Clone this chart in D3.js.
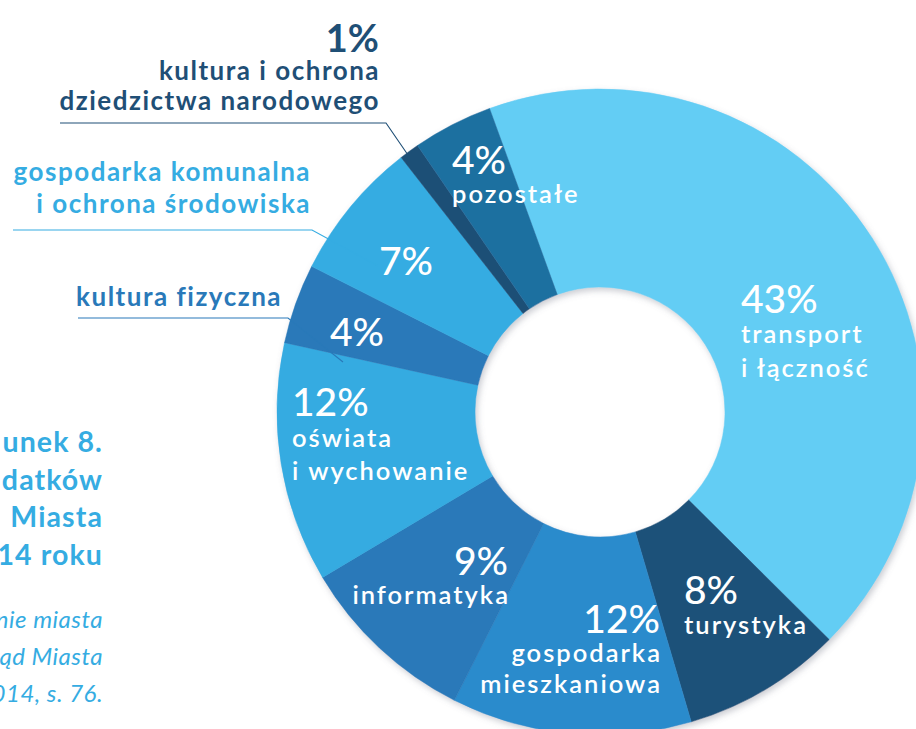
<!DOCTYPE html>
<html><head><meta charset="utf-8">
<script src="https://cdn.jsdelivr.net/npm/d3@7/dist/d3.min.js"></script>
<style>
html,body{margin:0;padding:0;background:#fff;overflow:hidden;}
svg{display:block;font-family:Lato,"Noto Sans",sans-serif;}
</style></head>
<body>
<svg id="chart" width="916" height="729"></svg>
<script>
// ---- data ----
const categories = ["transport i łączność","turystyka","gospodarka mieszkaniowa","informatyka","oświata i wychowanie","kultura fizyczna","gospodarka komunalna i ochrona środowiska","kultura i ochrona dziedzictwa narodowego","pozostałe"];
const values = [43, 8, 12, 9, 12, 4, 7, 1, 4];
const percentLabels = ["43%","8%","12%","9%","12%","4%","7%","1%","4%"];
const innerLines = [["transport","i łączność"],["turystyka"],["gospodarka","mieszkaniowa"],["informatyka"],["oświata","i wychowanie"],[],[],[],["pozostałe"]];
const outerLines = [[],[],[],[],[],["kultura fizyczna"],["gospodarka komunalna","i ochrona środowiska"],["kultura i ochrona","dziedzictwa narodowego"],[]];
// visible (cropped) parts of the figure caption at the left edge
const titleLines = ["unek 8.","datków","Miasta","14 roku"];
const sourceLines = ["nie miasta","ąd Miasta","014, s. 76."];
const palette = ["#64cdf4","#1f5179","#2b8bcc","#2979b9","#34abe1","#2979b9","#35ace2","#1f4f76","#1f6fa0"];

// ---- layout ----
const W = 916, H = 729;
const cx = 600, cy = 412, rIn = 125, rOut = 323;
const startDeg = -20;

const svg = d3.select("#chart");
const defs = svg.append("defs");
const f = defs.append("filter").attr("id","sh").attr("x","-20%").attr("y","-20%").attr("width","140%").attr("height","140%");
f.append("feDropShadow").attr("dx",2).attr("dy",3).attr("stdDeviation",3).attr("flood-color","#6a7080").attr("flood-opacity",0.35);

const pie = d3.pie().sort(null).value(d => d)
  .startAngle(startDeg*Math.PI/180).endAngle((startDeg+360)*Math.PI/180);
const arcs = pie(values);
const arc = d3.arc().innerRadius(rIn).outerRadius(rOut);

const g = svg.append("g").attr("transform",`translate(${cx},${cy})`);
g.append("g").attr("filter","url(#sh)")
  .selectAll("path").data(arcs).join("path")
  .attr("d", arc).attr("fill",(d,i)=>palette[i]).attr("stroke",(d,i)=>palette[i]).attr("stroke-width",0.5);

// in-slice labels: anchor, x offset, baselines relative to centre
const inLayout = [
  {a:"start", x:141, y:[-99,-69,-35]},
  {a:"start", x:84,  y:[192,222]},
  {a:"end",   x:60,  y:[221,250,281]},
  {a:"end",   x:-92, y:[163,192]},
  {a:"start", x:-308,y:[4,35,68]},
  {a:"start", x:-270,y:[-66]},
  {a:"start", x:-221,y:[-137]},
  {a:"start", x:0,   y:[]},
  {a:"start", x:-148,y:[-238,-209]}
];
const lab = g.append("g").attr("fill","#fff");
arcs.forEach((d,i)=>{
  const L = inLayout[i];
  if(!L.y.length) return;
  const t = lab.append("text").attr("text-anchor",L.a);
  t.append("tspan").attr("x",L.x).attr("y",L.y[0]).attr("font-size",39).attr("font-weight",500).text(percentLabels[i]);
  innerLines[i].forEach((s,k)=>{
    t.append("tspan").attr("x",L.x + (L.a==="end"?2:0)).attr("y",L.y[k+1]).attr("font-size",25.5).attr("font-weight",600).attr("letter-spacing",2).text(s);
  });
});

// outer callouts (positions in page coords)
const outLayout = {
  7:{x:380, pct:52, ys:[80,110], line:[[60,123],[386,123],[408,155]]},
  6:{x:311, ys:[181,213], line:[[13,230],[312,230],[378,266]]},
  5:{x:282, ys:[306], line:[[78,318],[288,318],[343,362]]}
};
const og = svg.append("g");
Object.keys(outLayout).forEach(k=>{
  const i = +k, L = outLayout[k], col = palette[i];
  og.append("path").attr("d", d3.line()(L.line)).attr("fill","none").attr("stroke",col).attr("stroke-width",1.1);
  if(L.pct){
    og.append("text").attr("text-anchor","end").attr("fill",col).attr("font-weight",700)
      .attr("x",L.x-1).attr("y",L.pct).attr("font-size",38).text(percentLabels[i]);
  }
  const t = og.append("text").attr("text-anchor","end").attr("fill",col).attr("font-weight",700);
  outerLines[i].forEach((s,j)=>{
    t.append("tspan").attr("x",L.x).attr("y",L.ys[j]).attr("font-size",26).attr("letter-spacing",1.5).text(s);
  });
});

// caption block (cropped at the left edge in the reference)
const tt = svg.append("text").attr("text-anchor","end").attr("fill","#35ace2").attr("font-weight",700).attr("font-size",28.5).attr("letter-spacing",1.1);
titleLines.forEach((s,j)=>tt.append("tspan").attr("x",103).attr("y",452+j*37.7).text(s));
const st = svg.append("text").attr("text-anchor","end").attr("fill","#35ace2").attr("font-style","italic").attr("font-size",24).attr("letter-spacing",0.5);
sourceLines.forEach((s,j)=>st.append("tspan").attr("x",103).attr("y",628+j*37).text(s));
</script>
</body></html>
